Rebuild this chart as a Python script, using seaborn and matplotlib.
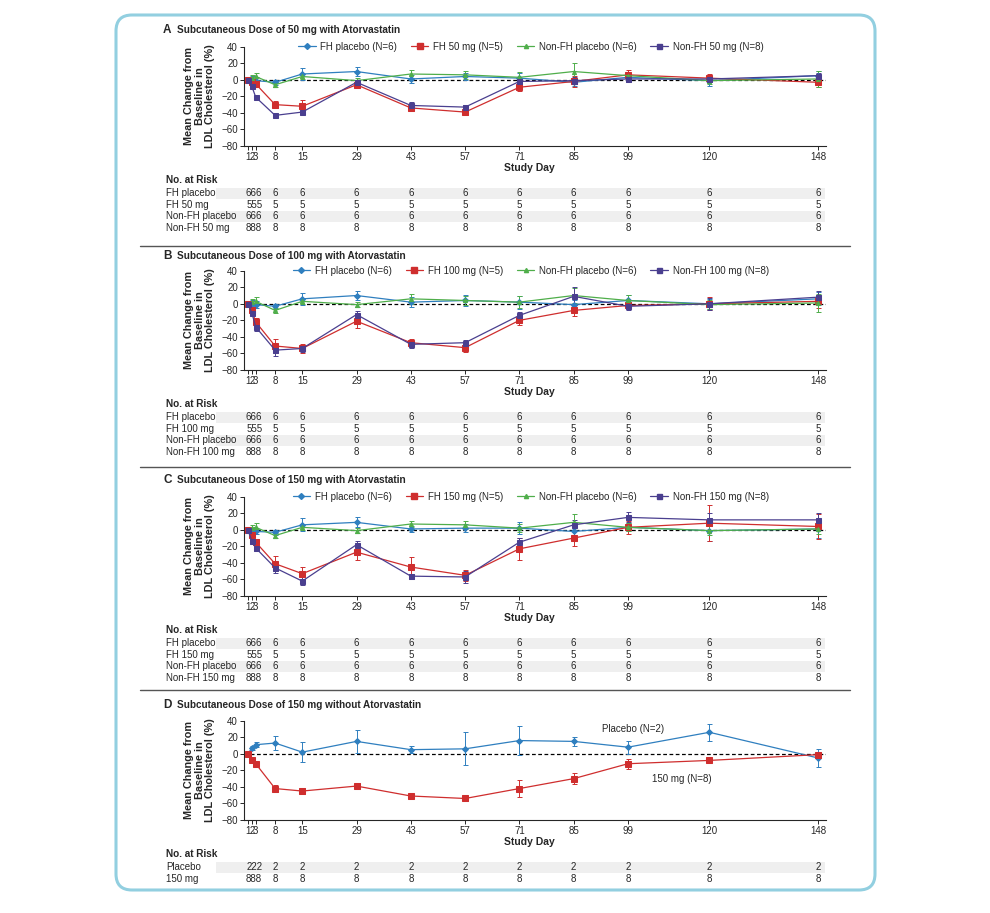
import numpy as np
import pandas as pd
import seaborn as sns
import matplotlib.pyplot as plt
from matplotlib.patches import FancyBboxPatch, Rectangle
from matplotlib.lines import Line2D

# Study days on the x axis
DAYS = [1, 2, 3, 8, 15, 29, 43, 57, 71, 85, 99, 120, 148]

# Panel A - 50 mg with atorvastatin (mean % change, SE)
A_FH_PBO = [0, 0, -1, -3, 7, 10, 1, 4, 2, -3, 3, -1, 5]
A_FH_PBO_SE = [0, 4, 4, 3, 7, 6, 5, 4, 6, 5, 5, 6, 6]
A_FH_DOSE = [0, -3, -5, -30, -32, -6, -34, -39, -9, -2, 6, 2, -3]
A_FH_DOSE_SE = [0, 2, 3, 4, 8, 4, 4, 3, 4, 7, 6, 5, 6]
A_NFH_PBO = [0, 2, 4, -6, 4, -1, 7, 6, 3, 10, 5, -1, 1]
A_NFH_PBO_SE = [0, 4, 4, 3, 3, 3, 5, 5, 6, 10, 3, 4, 10]
A_NFH_DOSE = [0, -8, -21, -43, -39, -3, -31, -33, -2, -1, 1, 1, 5]
A_NFH_DOSE_SE = [0, 2, 2, 2, 2, 2, 4, 2, 3, 4, 4, 3, 3]

# Panel B - 100 mg with atorvastatin
B_FH_PBO = [0, 0, -1, -3, 6, 10, 2, 4, 2, -1, 4, 0, 6]
B_FH_PBO_SE = [0, 4, 4, 3, 7, 6, 6, 7, 8, 5, 7, 6, 8]
B_FH_DOSE = [0, -8, -22, -51, -54, -21, -47, -53, -20, -8, -2, 0, 3]
B_FH_DOSE_SE = [0, 3, 5, 8, 5, 8, 5, 5, 6, 7, 4, 8, 8]
B_NFH_PBO = [0, 2, 3, -8, 3, -1, 6, 4, 2, 10, 4, -1, 1]
B_NFH_PBO_SE = [0, 4, 5, 3, 3, 3, 6, 6, 7, 9, 7, 5, 11]
B_NFH_DOSE = [0, -11, -28, -56, -54, -13, -49, -47, -14, 9, -3, 0, 8]
B_NFH_DOSE_SE = [0, 3, 5, 7, 4, 4, 4, 3, 4, 11, 5, 7, 8]

# Panel C - 150 mg with atorvastatin
C_FH_PBO = [0, -1, -2, -3, 6, 9, 1, 2, 2, -2, 3, -1, 1]
C_FH_PBO_SE = [0, 3, 3, 3, 8, 6, 4, 5, 7, 5, 5, 12, 11]
C_FH_DOSE = [0, -6, -15, -41, -53, -27, -45, -55, -23, -10, 3, 8, 4]
C_FH_DOSE_SE = [0, 3, 4, 9, 8, 9, 12, 7, 13, 9, 8, 22, 15]
C_NFH_PBO = [0, 2, 3, -7, 3, -1, 7, 6, 2, 9, 3, -1, 1]
C_NFH_PBO_SE = [0, 4, 5, 3, 3, 3, 4, 5, 5, 10, 5, 5, 6]
C_NFH_DOSE = [0, -14, -22, -46, -62, -18, -56, -57, -15, 6, 15, 12, 12]
C_NFH_DOSE_SE = [0, 3, 4, 6, 5, 5, 3, 7, 5, 6, 6, 8, 8]

# Panel D - 150 mg without atorvastatin
D_PBO = [0, 7, 11, 13, 2, 15, 5, 6, 16, 15, 8, 26, -5]
D_PBO_SE = [0, 3, 3, 9, 12, 14, 4, 20, 17, 5, 8, 10, 11]
D_DOSE = [0, -7, -12, -42, -45, -39, -51, -54, -42, -30, -12, -8, -1]
D_DOSE_SE = [0, 2, 2, 4, 4, 4, 3, 3, 10, 7, 6, 2, 3]

# Numbers at risk
RISK_FH_PBO = [6, 6, 6, 6, 6, 6, 6, 6, 6, 6, 6, 6, 6]
RISK_FH_DOSE = [5, 5, 5, 5, 5, 5, 5, 5, 5, 5, 5, 5, 5]
RISK_NFH_PBO = [6, 6, 6, 6, 6, 6, 6, 6, 6, 6, 6, 6, 6]
RISK_NFH_DOSE = [8, 8, 8, 8, 8, 8, 8, 8, 8, 8, 8, 8, 8]
RISK_D_PBO = [2, 2, 2, 2, 2, 2, 2, 2, 2, 2, 2, 2, 2]
RISK_D_DOSE = [8, 8, 8, 8, 8, 8, 8, 8, 8, 8, 8, 8, 8]

YTICKS = [40, 20, 0, -20, -40, -60, -80]

BLUE, RED, GREEN, PURPLE = "#2f7fbf", "#cf2e2e", "#4fae4a", "#4a3f8f"
STYLES = [(BLUE, "D", 3.0), (RED, "s", 4.2), (GREEN, "^", 3.0), (PURPLE, "s", 3.6)]

W, H = 990, 913
AX_LEFT, AX_W, AX_H = 244.1, 581.6, 99.3
FS = 7


def fx(px):
    return px / W


def fy(py):
    return 1 - py / H


sns.set_style("ticks")
plt.rcParams["font.family"] = ["Liberation Sans Narrow", "DejaVu Sans Condensed", "Liberation Sans", "DejaVu Sans"]
plt.rcParams["axes.linewidth"] = 0.8

fig = plt.figure(figsize=(W / 100, H / 100), dpi=100)

# rounded frame
frame = FancyBboxPatch((1.16, 0.23), 7.59, 8.75, boxstyle="round,pad=0,rounding_size=0.16",
                       transform=fig.dpi_scale_trans, facecolor="none", edgecolor="#92cfe0",
                       linewidth=2.2, zorder=0)
fig.patches.append(frame)

# panel separators
for sep in [246.5, 467.0, 689.5]:
    fig.add_artist(Line2D([fx(140), fx(850)], [fy(sep), fy(sep)], color="#555555",
                          linewidth=1.0, transform=fig.transFigure))

panels = [
    {
        "top": 46.7, "title_y": 30, "letter": "A",
        "title": "Subcutaneous Dose of 50 mg with Atorvastatin",
        "series": [(A_FH_PBO, A_FH_PBO_SE), (A_FH_DOSE, A_FH_DOSE_SE),
                   (A_NFH_PBO, A_NFH_PBO_SE), (A_NFH_DOSE, A_NFH_DOSE_SE)],
        "labels": ["FH placebo (N=6)", "FH 50 mg (N=5)", "Non-FH placebo (N=6)", "Non-FH 50 mg (N=8)"],
        "rows": ["FH placebo", "FH 50 mg", "Non-FH placebo", "Non-FH 50 mg"],
        "risk": [RISK_FH_PBO, RISK_FH_DOSE, RISK_NFH_PBO, RISK_NFH_DOSE],
    },
    {
        "top": 270.7, "title_y": 256, "letter": "B",
        "title": "Subcutaneous Dose of 100 mg with Atorvastatin",
        "series": [(B_FH_PBO, B_FH_PBO_SE), (B_FH_DOSE, B_FH_DOSE_SE),
                   (B_NFH_PBO, B_NFH_PBO_SE), (B_NFH_DOSE, B_NFH_DOSE_SE)],
        "labels": ["FH placebo (N=6)", "FH 100 mg (N=5)", "Non-FH placebo (N=6)", "Non-FH 100 mg (N=8)"],
        "rows": ["FH placebo", "FH 100 mg", "Non-FH placebo", "Non-FH 100 mg"],
        "risk": [RISK_FH_PBO, RISK_FH_DOSE, RISK_NFH_PBO, RISK_NFH_DOSE],
    },
    {
        "top": 496.7, "title_y": 480, "letter": "C",
        "title": "Subcutaneous Dose of 150 mg with Atorvastatin",
        "series": [(C_FH_PBO, C_FH_PBO_SE), (C_FH_DOSE, C_FH_DOSE_SE),
                   (C_NFH_PBO, C_NFH_PBO_SE), (C_NFH_DOSE, C_NFH_DOSE_SE)],
        "labels": ["FH placebo (N=6)", "FH 150 mg (N=5)", "Non-FH placebo (N=6)", "Non-FH 150 mg (N=8)"],
        "rows": ["FH placebo", "FH 150 mg", "Non-FH placebo", "Non-FH 150 mg"],
        "risk": [RISK_FH_PBO, RISK_FH_DOSE, RISK_NFH_PBO, RISK_NFH_DOSE],
    },
    {
        "top": 720.7, "title_y": 705, "letter": "D",
        "title": "Subcutaneous Dose of 150 mg without Atorvastatin",
        "series": [(D_PBO, D_PBO_SE), (D_DOSE, D_DOSE_SE)],
        "labels": None,
        "rows": ["Placebo", "150 mg"],
        "risk": [RISK_D_PBO, RISK_D_DOSE],
    },
]

ROW_OFFSETS = [47, 58.7, 70.4, 82]

for p in panels:
    bottom_px = p["top"] + AX_H
    ax = fig.add_axes([fx(AX_LEFT), fy(bottom_px), AX_W / W, AX_H / H])
    styles = STYLES if len(p["series"]) == 4 else [STYLES[0], STYLES[1]]

    ax.axhline(0, color="black", linestyle=(0, (3, 2)), linewidth=0.9, zorder=1)
    for (vals, se), (col, mk, ms) in zip(p["series"], styles):
        df = pd.DataFrame({"day": DAYS, "change": vals, "se": se})
        ax.errorbar(df["day"], df["change"], yerr=df["se"], fmt="none", ecolor=col,
                    elinewidth=0.7, capsize=1.8, capthick=0.7, zorder=2)
        sns.lineplot(data=df, x="day", y="change", color=col, marker=mk, markersize=ms,
                     markeredgecolor=col, linewidth=0.9, ax=ax, zorder=3)

    ax.set_xlim(0, 150)
    ax.set_ylim(-80, 40)
    ax.set_xticks(DAYS)
    ax.set_xticklabels([str(d) for d in DAYS], fontsize=FS)
    ax.set_yticks(YTICKS)
    ax.set_yticklabels([str(t).replace("-", "\u2212") for t in YTICKS], fontsize=FS)
    ax.tick_params(axis="both", length=3, width=0.7, pad=1.5)
    sns.despine(ax=ax)
    ax.set_xlabel("Study Day", fontsize=7.5, fontweight="bold")
    ax.xaxis.set_label_coords(0.49, -17 / AX_H)
    ax.set_ylabel("Mean Change from\nBaseline in\nLDL Cholesterol (%)", fontsize=7.8,
                  fontweight="bold", linespacing=1.05)
    ax.yaxis.set_label_coords(-0.05, 0.5)

    if p["labels"]:
        handles = [Line2D([0], [0], color=c, marker=m, markersize=ms, linewidth=0.9)
                   for c, m, ms in styles]
        ax.legend(handles, p["labels"], ncol=4, loc="center", bbox_to_anchor=(0.493, 1.0),
                  frameon=False, fontsize=FS, handlelength=1.8, handletextpad=0.5,
                  columnspacing=1.4, borderaxespad=0)
    else:
        ax.text(92.3, 30, "Placebo (N=2)", fontsize=FS, va="center", ha="left")
        ax.text(105.2, -30.4, "150 mg (N=8)", fontsize=FS, va="center", ha="left")

    # title
    fig.text(fx(163), fy(p["title_y"]), p["letter"], fontsize=8.5, fontweight="bold", va="center")
    fig.text(fx(177), fy(p["title_y"]), p["title"], fontsize=7.2, fontweight="bold", va="center")

    # number at risk table
    fig.text(fx(166.5), fy(bottom_px + 34), "No. at Risk", fontsize=7.2, fontweight="bold", va="center")
    xt = ax.get_xaxis_transform()
    for i, (name, counts) in enumerate(zip(p["rows"], p["risk"])):
        ry = bottom_px + ROW_OFFSETS[i]
        ay = -ROW_OFFSETS[i] / AX_H
        if i % 2 == 0:
            ax.add_patch(Rectangle((-7.3, ay - 5.5 / AX_H), 157, 11 / AX_H, transform=xt,
                                   facecolor="#efefef", edgecolor="none", clip_on=False, zorder=0))
        fig.text(fx(166.5), fy(ry), name, fontsize=FS, va="center")
        ax.text(DAYS[1] + 0.6, ay, "".join(str(c) for c in counts[:3]), transform=xt,
                fontsize=FS, ha="center", va="center", clip_on=False)
        for d, c in zip(DAYS[3:], counts[3:]):
            ax.text(d, ay, str(c), transform=xt, fontsize=FS, ha="center", va="center", clip_on=False)

fig.savefig("out.png", dpi=100, facecolor="white")
